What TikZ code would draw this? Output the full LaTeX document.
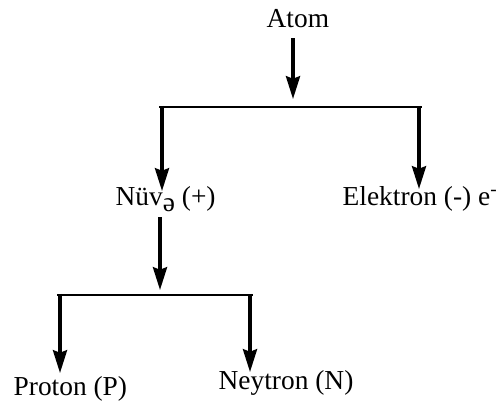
\documentclass[tikz,border=0pt]{standalone}
\usepackage{fontspec}
\setmainfont{Liberation Serif}
\usetikzlibrary{arrows.meta}

\tikzset{
  label text/.style={inner sep=0pt, anchor=base west, font=\fontsize{15.6pt}{18pt}\selectfont},
  branch/.style={-{Stealth[length=13pt, width=8pt, inset=1.5pt]}},
  bar/.style={line width=1.4pt},
}

\begin{document}
\begin{tikzpicture}[x=0.02cm, y=-0.02cm, line width=1.9pt]
  \useasboundingbox (0,0) rectangle (503,400);

  % Labels
  \node[label text] (atom) at (265,27) {Atom};
  \node[label text] (nuve) at (114,205) {Nüv\raisebox{-0.25em}{ə} (+)};
  \node[label text] (elektron) at (341,205) {Elektron (-) e\textsuperscript{-}};
  \node[label text] (proton) at (12,395) {Proton (P)};
  \node[label text] (neytron) at (217,389) {Neytron (N)};

  % Upper bracket
  \coordinate (atom out) at (293,38);
  \coordinate (atom in) at (293,99);
  \coordinate (top left) at (162,107);
  \coordinate (top right) at (419,107);
  \coordinate (nuve in) at (162,191);
  \coordinate (elektron in) at (419,189);
  \draw[branch] (atom out) -- (atom in);
  \draw[bar] ([xshift=-1.5pt]top left) -- ([xshift=1.5pt]top right);
  \draw[branch] ([yshift=0.7pt]top left) -- (nuve in);
  \draw[branch] ([yshift=0.7pt]top right) -- (elektron in);

  % Lower bracket
  \coordinate (nuve out) at (160,217);
  \coordinate (nuve end) at (160,290);
  \coordinate (low left) at (60,295);
  \coordinate (low right) at (250,295);
  \coordinate (proton in) at (60,373);
  \coordinate (neytron in) at (250,372);
  \draw[branch] (nuve out) -- (nuve end);
  \draw[bar] ([xshift=-1.5pt]low left) -- ([xshift=1.5pt]low right);
  \draw[branch] ([yshift=0.7pt]low left) -- (proton in);
  \draw[branch] ([yshift=0.7pt]low right) -- (neytron in);
\end{tikzpicture}
\end{document}
